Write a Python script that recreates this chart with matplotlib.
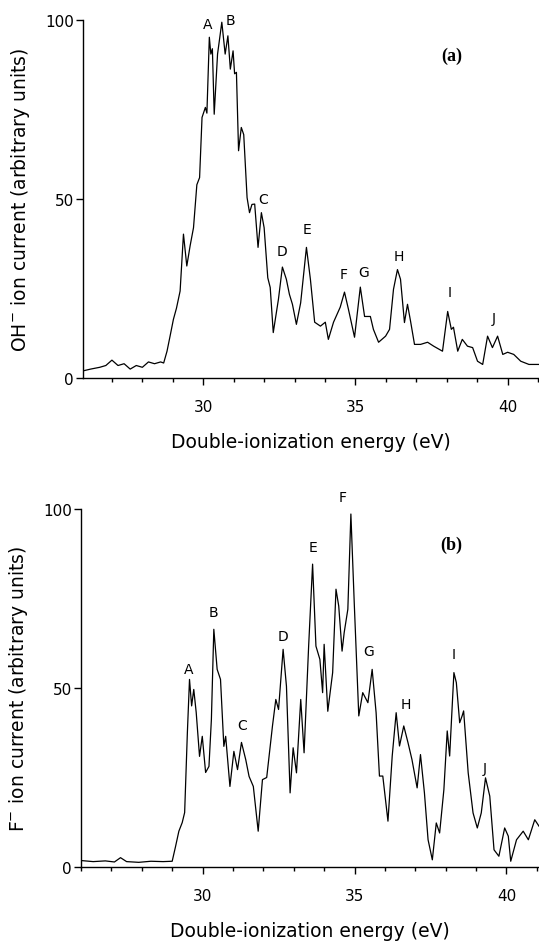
import matplotlib
matplotlib.use("Agg")
import matplotlib.pyplot as plt
from matplotlib.ticker import MultipleLocator

# energy (eV) and ion current
E_a = [26.05, 26.3, 26.6, 26.8, 27.0, 27.2, 27.4, 27.6, 27.8, 28.0, 28.2, 28.4, 28.6, 28.7,
       28.81, 28.91, 29.02, 29.12, 29.24, 29.35, 29.46, 29.57, 29.68, 29.79, 29.88, 29.96,
       30.07, 30.12, 30.2, 30.25, 30.3, 30.36, 30.47, 30.61, 30.72, 30.81, 30.89, 30.98,
       31.03, 31.09, 31.16, 31.25, 31.33, 31.44, 31.52, 31.6, 31.69, 31.8, 31.91, 32.0,
       32.12, 32.2, 32.3, 32.47, 32.6, 32.73, 32.83, 32.93, 33.06, 33.2, 33.39, 33.52,
       33.66, 33.85, 34.01, 34.11, 34.28, 34.5, 34.64, 34.77, 34.97, 35.16, 35.3, 35.49,
       35.59, 35.76, 35.99, 36.12, 36.25, 36.38, 36.48, 36.61, 36.71, 36.81, 36.94, 37.14,
       37.37, 37.57, 37.86, 38.03, 38.15, 38.22, 38.36, 38.51, 38.68, 38.85, 39.01, 39.18,
       39.34, 39.5, 39.67, 39.84, 40.0, 40.2, 40.43, 40.7, 41.03]
I_a = [2.0, 2.5, 3.0, 3.5, 5.0, 3.5, 4.0, 2.5, 3.5, 3.0, 4.5, 4.0, 4.5, 4.2,
       7.5, 11.7, 16.4, 19.5, 24.3, 40.2, 31.3, 37, 42, 54, 56, 72.8,
       75.6, 74, 95.2, 90.5, 92, 73.7, 90.5, 99.4, 90.5, 95.6, 86.3, 91.4,
       85, 85.4, 63.5, 70, 68, 50.4, 46.2, 48.5, 48.6, 36.5, 46.2, 42,
       28, 25.3, 12.7, 22, 31, 27.6, 23.4, 20.6, 15, 21, 36.5, 27.6,
       15.6, 14.5, 15.6, 10.8, 15.6, 19.8, 24, 19.2, 11.4, 25.4, 17.2, 17.2,
       13.6, 10, 11.7, 13.6, 24.8, 30.3, 27.6, 15.5, 20.6, 15.9, 9.4, 9.4,
       10, 8.9, 7.5, 18.6, 13.6, 14.2, 7.5, 10.8, 8.9, 8.5, 4.7, 3.8,
       11.7, 8.5, 11.7, 6.6, 7.2, 6.6, 4.7, 3.8, 3.8]

E_b = [26.0, 26.4, 26.8, 27.1, 27.3, 27.5, 27.9, 28.3, 28.7, 29.0, 29.11, 29.22, 29.33,
       29.41, 29.5, 29.57, 29.64, 29.71, 29.79, 29.9, 29.99, 30.1, 30.21, 30.29, 30.37,
       30.48, 30.59, 30.7, 30.76, 30.9, 31.03, 31.15, 31.28, 31.42, 31.53, 31.67, 31.83,
       31.97, 32.11, 32.3, 32.41, 32.5, 32.65, 32.76, 32.88, 32.98, 33.09, 33.23, 33.34,
       33.49, 33.62, 33.73, 33.86, 33.95, 34.0, 34.12, 34.28, 34.39, 34.48, 34.59, 34.66,
       34.78, 34.88, 34.99, 35.14, 35.27, 35.44, 35.58, 35.71, 35.82, 35.93, 36.1, 36.24,
       36.37, 36.48, 36.62, 36.76, 36.89, 37.06, 37.17, 37.3, 37.42, 37.56, 37.69, 37.8,
       37.94, 38.05, 38.13, 38.27, 38.35, 38.46, 38.54, 38.59, 38.74, 38.9, 39.04, 39.17,
       39.31, 39.45, 39.59, 39.75, 39.94, 40.06, 40.14, 40.33, 40.55, 40.72, 40.93, 41.07]
I_b = [1.8, 1.5, 1.7, 1.4, 2.6, 1.5, 1.3, 1.6, 1.5, 1.6, 5.7, 10, 12.4,
       15.2, 37.6, 52.4, 45, 49.6, 43.2, 30.9, 36.5, 26.4, 28.1, 41.2, 66.4,
       55.2, 52.4, 33.7, 36.5, 22.5, 32.3, 27.2, 34.8, 30, 25.3, 22.5, 10,
       24.4, 25, 39.4, 46.8, 44, 60.8, 50.5, 20.7, 33.3, 26.3, 46.8, 31.9,
       61.7, 84.6, 61.7, 58, 48.7, 62.2, 43.5, 54.3, 77.6, 72.9, 60.3, 65.5,
       72, 98.6, 73.9, 42.2, 48.7, 45.9, 55.2, 43.1, 25.4, 25.4, 12.8, 31,
       43.1, 33.8, 39.4, 34.7, 30, 22.1, 31.4, 20.7, 7.6, 2, 12.3, 9.5,
       21.6, 38, 31, 54.3, 51.5, 40.3, 42.2, 43.6, 26.3, 15.1, 10.9, 15.1,
       24.9, 19.8, 4.8, 3, 10.9, 8.6, 1.6, 7.6, 10, 7.6, 13.2, 11.4]

# peak letters and where they sit
peak_names = ["A", "B", "C", "D", "E", "F", "G", "H", "I", "J"]
peak_x_a = [30.16, 30.89, 31.97, 32.6, 33.42, 34.6, 35.26, 36.41, 38.09, 39.54]
peak_y_a = [98.9, 100.0, 49.9, 35.4, 41.6, 29.0, 29.5, 34.0, 23.9, 16.7]
peak_x_b = [29.55, 30.37, 31.31, 32.63, 33.62, 34.61, 35.46, 36.7, 38.27, 39.28]
peak_y_b = [55.4, 71.1, 39.8, 64.5, 89.3, 103.3, 60.3, 45.4, 59.4, 27.7]

xticks = [30, 35, 40]
yticks = [0, 50, 100]

fig = plt.figure(figsize=(5.39, 9.45), dpi=100)
ax_a = fig.add_axes([0.1540, 0.5989, 0.846, 0.3788])
ax_b = fig.add_axes([0.1503, 0.0815, 0.8497, 0.3788])


def draw_panel(ax, E, I, px, py, ylabel, tag, xlim):
    ax.plot(E, I, color="black", lw=0.9)
    ax.set_xlim(*xlim)
    ax.set_ylim(0, 100)
    for s in ["top", "right"]:
        ax.spines[s].set_visible(False)
    for s in ["left", "bottom"]:
        ax.spines[s].set_linewidth(1.0)
    ax.set_xticks(xticks)
    ax.xaxis.set_minor_locator(MultipleLocator(1))
    ax.set_yticks(yticks)
    ax.tick_params(axis="x", which="major", direction="out", length=5, width=1.0, pad=10, labelsize=11)
    ax.tick_params(axis="x", which="minor", direction="out", length=3, width=1.0)
    ax.tick_params(axis="y", which="major", direction="out", length=5, width=1.0, pad=1.5, labelsize=11)
    for lab in ax.get_xticklabels() + ax.get_yticklabels():
        lab.set_family("DejaVu Sans")
    ax.set_xlabel("Double-ionization energy (eV)", fontsize=13.5, family="DejaVu Sans")
    ax.set_ylabel(ylabel, fontsize=13.5, family="DejaVu Sans")
    ax.xaxis.set_label_coords(0.5, -0.152)
    ax.yaxis.set_label_coords(-0.112, 0.5)
    for n, x, y in zip(peak_names, px, py):
        ax.text(x, y, n, fontsize=10, ha="center", va="center", family="DejaVu Sans", clip_on=False)
    ax.text(38.17, 90.2, tag, fontsize=13, fontweight="bold", family="Liberation Serif",
            ha="center", va="center")


draw_panel(ax_a, E_a, I_a, peak_x_a, peak_y_a, r"OH$^{-}$ ion current (arbitrary units)", "(a)", (26.05, 41.03))
draw_panel(ax_b, E_b, I_b, peak_x_b, peak_y_b, r"F$^{-}$ ion current (arbitrary units)", "(b)", (26.0, 41.07))

fig.savefig("out.png", dpi=100)
